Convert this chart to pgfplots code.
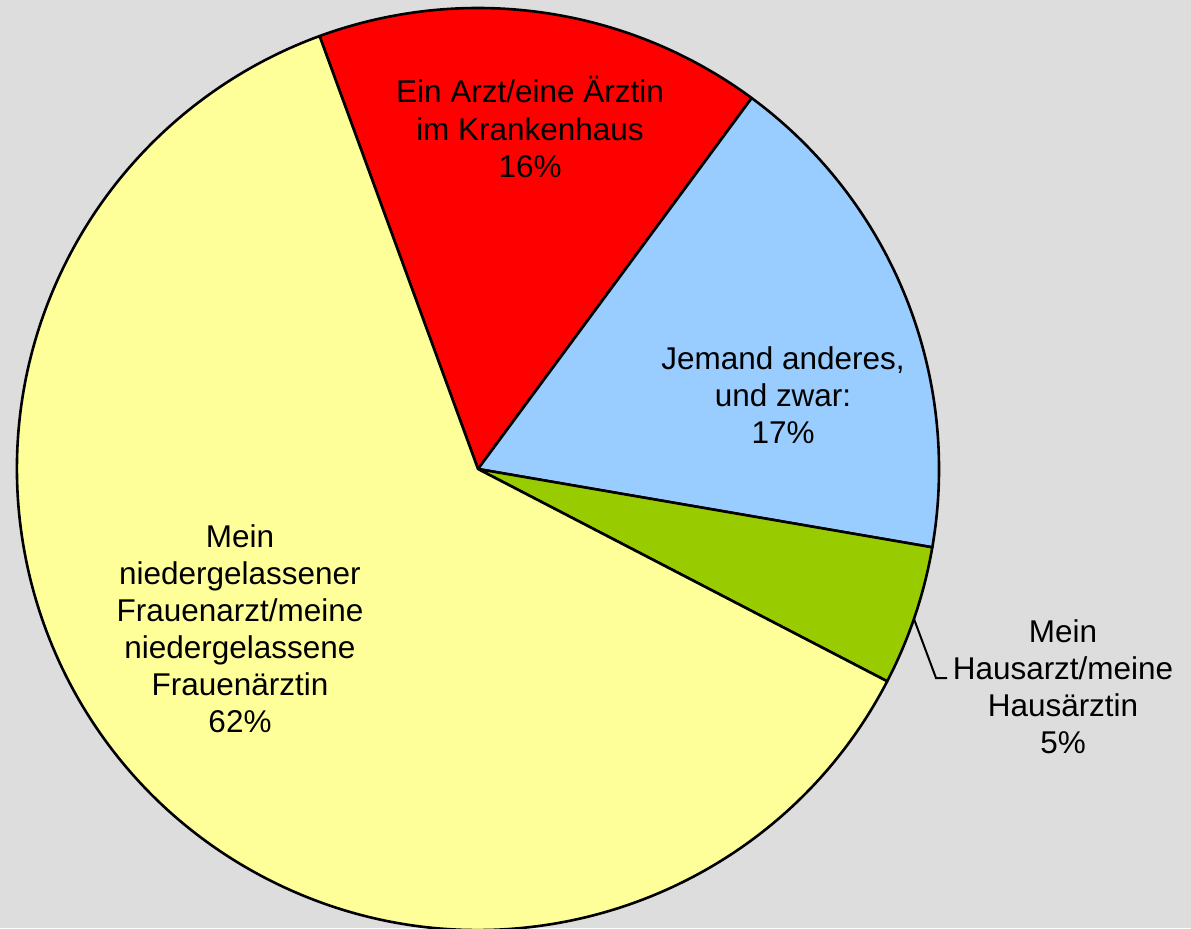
\documentclass[border=0pt]{standalone}
\usepackage{pgfplots}
\usepackage{pgfplotstable}
\pgfplotsset{compat=1.18}
\usepackage{fontspec}
\setmainfont{Liberation Sans}
\definecolor{bg}{HTML}{DDDDDD}
\definecolor{cred}{HTML}{FF0000}
\definecolor{cblue}{HTML}{99CCFF}
\definecolor{cgreen}{HTML}{99CC00}
\definecolor{cyellow}{HTML}{FFFF99}
\pgfplotstableread{
value col
15.7 cred
17.6 cblue
4.9 cgreen
61.8 cyellow
}\slices
\begin{document}
\begin{tikzpicture}
\begin{axis}[x=0.5bp,y=0.5bp,xmin=0,xmax=1191,ymin=0,ymax=928,hide axis,clip=true]
\fill[bg] (axis cs:0,0) rectangle (axis cs:1191,928);
\def\ang{110.1}
\pgfplotsforeachungrouped \i in {0,...,3}{%
 \pgfplotstablegetelem{\i}{value}\of\slices \let\v\pgfplotsretval
 \pgfplotstablegetelem{\i}{col}\of\slices \let\c\pgfplotsretval
 \pgfmathsetmacro\endang{\ang-3.6*\v}%
 \edef\cmd{\noexpand\filldraw[fill=\c,draw=black,line width=1.3bp,line join=round] (axis cs:478,459) -- ++(\ang:230.5bp) arc[start angle=\ang,end angle=\endang,radius=230.5bp] -- cycle;}%
 \cmd
 \let\ang\endang
}
\draw[line width=1bp] (axis cs:914,309) -- (axis cs:936,250) -- (axis cs:947,250);
\tikzset{lab/.style={align=center,inner sep=0pt,font=\fontsize{15.8}{18.6}\selectfont}}
\node[lab] at (axis cs:530,801) {Ein Arzt/eine Ärztin\\im Krankenhaus\\16\%};
\node[lab] at (axis cs:783,533) {Jemand anderes,\\und zwar:\\17\%};
\node[lab] at (axis cs:1063,241.5) {Mein\\Hausarzt/meine\\Hausärztin\\5\%};
\node[lab] at (axis cs:240,299.5) {Mein\\niedergelassener\\Frauenarzt/meine\\niedergelassene\\Frauenärztin\\62\%};
\end{axis}
\end{tikzpicture}
\end{document}
